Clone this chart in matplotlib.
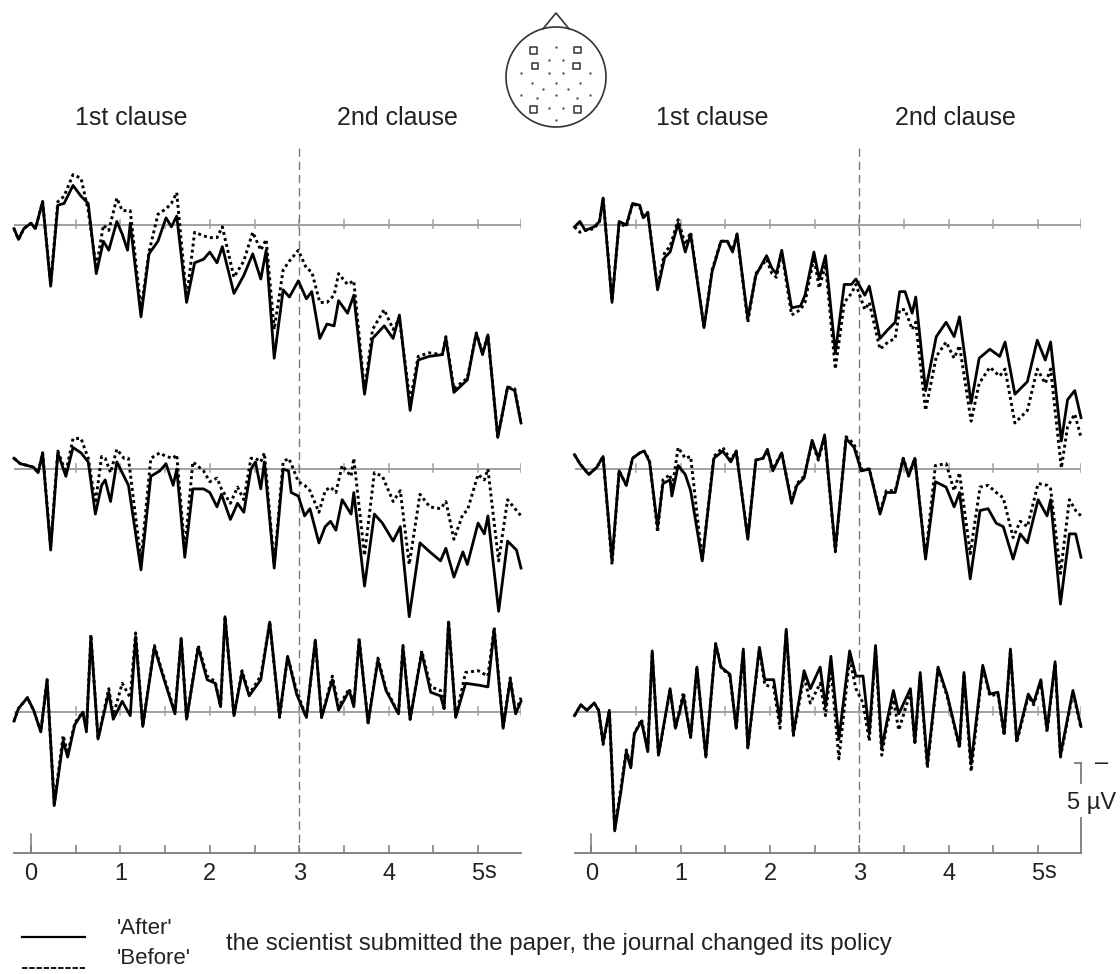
import matplotlib
matplotlib.use("Agg")
import matplotlib.pyplot as plt
import matplotlib.transforms as mtransforms
from matplotlib.lines import Line2D
from matplotlib.patches import Circle
import numpy as np

plt.rcParams['font.family'] = ['Liberation Sans', 'DejaVu Sans']

# ---------------------------------------------------------------------------
# ERP grand averages (µV, negative plotted upwards), three electrode rows per
# panel.  Each row: sample times (s), 'After' and 'Before' amplitudes.
# ---------------------------------------------------------------------------
left_t1 = [-0.19, -0.14, -0.08, 0.00, 0.05, 0.13, 0.22, 0.30, 0.37, 0.47, 0.56, 0.64, 0.73, 0.81, 0.87, 0.96, 1.02, 1.08, 1.11, 1.23, 1.32, 1.42, 1.51, 1.57, 1.63, 1.74, 1.83, 1.93, 2.00, 2.08, 2.14, 2.27, 2.38, 2.48, 2.57, 2.63, 2.72, 2.82, 2.89, 2.99, 3.08, 3.14, 3.23, 3.31, 3.39, 3.44, 3.54, 3.61, 3.73, 3.82, 3.95, 4.05, 4.12, 4.24, 4.33, 4.45, 4.60, 4.64, 4.73, 4.88, 4.98, 5.05, 5.11, 5.22, 5.33, 5.41, 5.48]
left_after1 = [0.2, 0.8, 0.2, -0.1, 0.2, -1.3, 3.4, -1.1, -1.2, -2.2, -1.6, -1.2, 2.7, 0.9, 1.4, -0.2, 0.5, 1.4, -0.1, 5.1, 1.6, 0.9, -0.4, 0.1, -0.5, 4.3, 2.1, 1.9, 1.5, 2.1, 1.2, 3.8, 2.8, 1.6, 3.0, 1.4, 7.4, 3.6, 4.0, 3.1, 4.1, 3.7, 6.3, 5.5, 5.6, 4.2, 4.9, 3.9, 9.4, 6.3, 5.6, 6.3, 5.0, 10.3, 7.5, 7.3, 7.2, 6.3, 9.3, 8.6, 6.0, 7.2, 6.1, 11.8, 9.0, 9.2, 11.0]
left_before1 = [0.2, 0.8, 0.2, -0.1, 0.2, -1.3, 3.3, -1.3, -1.6, -2.8, -2.6, -0.8, 2.4, 0.0, 0.3, -1.5, -0.8, -0.8, -0.8, 4.7, 1.5, -0.6, -0.9, -1.2, -1.8, 4.1, 0.4, 0.6, 0.7, 0.7, 0.1, 2.9, 2.0, 0.4, 1.4, 0.8, 5.8, 2.5, 2.0, 1.4, 2.4, 2.6, 4.3, 4.3, 3.9, 2.7, 3.3, 3.1, 9.2, 5.8, 4.7, 5.8, 5.2, 9.8, 7.3, 7.1, 7.2, 6.2, 9.1, 8.5, 6.0, 7.1, 6.1, 11.8, 9.0, 9.1, 11.0]

left_t2 = [-0.19, -0.12, -0.04, 0.03, 0.08, 0.13, 0.22, 0.30, 0.39, 0.47, 0.56, 0.64, 0.72, 0.79, 0.83, 0.89, 0.96, 1.04, 1.09, 1.23, 1.34, 1.44, 1.51, 1.59, 1.63, 1.72, 1.81, 1.93, 2.00, 2.08, 2.13, 2.23, 2.31, 2.38, 2.46, 2.51, 2.57, 2.61, 2.72, 2.82, 2.88, 2.91, 2.99, 3.06, 3.12, 3.22, 3.29, 3.35, 3.41, 3.48, 3.58, 3.61, 3.73, 3.84, 3.93, 4.05, 4.13, 4.23, 4.35, 4.46, 4.58, 4.64, 4.73, 4.83, 4.88, 5.00, 5.07, 5.11, 5.23, 5.33, 5.43, 5.48]
left_after2 = [-0.6, -0.3, -0.2, -0.1, 0.2, -0.9, 4.5, -0.9, 0.4, -1.2, -0.9, -0.4, 2.5, 0.9, 0.6, 1.8, -0.4, 0.4, 0.9, 5.6, 0.4, 0.1, -0.3, 0.9, 0.0, 4.9, 1.1, 1.1, 1.3, 2.1, 1.4, 2.8, 1.9, 2.4, 0.0, -0.4, 1.1, -0.4, 5.5, 0.0, 0.1, 1.3, 1.5, 2.6, 2.2, 4.1, 3.2, 2.9, 3.4, 1.7, 2.5, 1.3, 6.5, 2.5, 3.0, 4.0, 3.2, 8.2, 4.1, 4.6, 5.1, 4.4, 6.0, 4.6, 5.3, 3.0, 3.6, 2.6, 7.9, 4.0, 4.5, 5.5]
left_before2 = [-0.6, -0.3, -0.2, -0.1, 0.2, -0.9, 4.3, -1.0, 0.2, -1.7, -1.7, -0.6, 1.9, -0.7, -0.6, 0.2, -1.1, -0.6, -0.6, 5.1, -0.6, -0.9, -0.7, -0.6, -0.8, 4.5, -0.4, 0.1, 0.7, 0.5, 1.1, 1.9, 1.0, 1.7, -0.6, -0.6, -0.4, -0.9, 5.3, -0.4, -0.6, -0.3, 0.7, 0.9, 1.2, 2.4, 1.2, 1.0, 1.3, -0.2, 0.4, -0.6, 4.8, 0.2, 0.4, 1.8, 1.2, 5.3, 1.4, 2.1, 2.2, 1.8, 3.9, 2.5, 2.3, 0.3, 0.6, 0.0, 5.1, 1.7, 2.3, 2.6]

left_t3 = [-0.19, -0.14, -0.04, 0.03, 0.11, 0.18, 0.26, 0.36, 0.41, 0.49, 0.58, 0.62, 0.67, 0.75, 0.87, 0.92, 1.02, 1.11, 1.17, 1.25, 1.38, 1.47, 1.61, 1.68, 1.74, 1.87, 1.97, 2.06, 2.12, 2.17, 2.27, 2.36, 2.44, 2.57, 2.67, 2.78, 2.87, 2.97, 3.08, 3.18, 3.25, 3.37, 3.44, 3.56, 3.61, 3.67, 3.77, 3.88, 3.97, 4.11, 4.16, 4.24, 4.37, 4.47, 4.58, 4.62, 4.67, 4.75, 4.86, 5.00, 5.11, 5.18, 5.28, 5.36, 5.42, 5.48]
left_after3 = [0.5, -0.2, -0.8, -0.1, 1.1, -1.8, 5.2, 1.6, 2.5, 0.7, 0.0, 1.1, -4.2, 1.5, -1.1, 0.4, -0.6, 0.2, -4.2, 0.8, -3.6, -2.1, 0.1, -4.1, 0.4, -3.6, -1.8, -1.6, -0.3, -5.3, 0.2, -2.2, -0.9, -1.8, -5.0, 0.2, -3.1, -1.0, 0.3, -4.0, 0.3, -1.8, -0.1, -1.2, -0.3, -4.0, 0.6, -2.9, -1.2, 0.1, -3.6, 0.4, -3.3, -1.1, -0.9, -0.2, -5.0, 0.3, -1.6, -1.5, -1.4, -4.6, 0.9, -1.8, 0.1, -0.6]
left_before3 = [0.5, -0.2, -0.8, -0.1, 1.1, -1.8, 5.1, 1.3, 2.3, 0.6, 0.0, 1.0, -4.3, 1.5, -1.3, 0.2, -1.6, -0.8, -4.4, 0.8, -3.7, -2.2, 0.0, -4.1, 0.4, -3.7, -2.0, -1.7, -0.3, -5.3, 0.2, -2.3, -1.0, -2.0, -5.0, 0.3, -3.1, -1.2, 0.3, -4.0, 0.3, -2.0, -0.3, -1.3, -0.4, -4.1, 0.6, -3.0, -1.3, 0.1, -3.7, 0.4, -3.4, -1.4, -1.2, -0.2, -5.1, 0.3, -2.2, -2.3, -2.0, -4.7, 0.8, -1.9, 0.0, -0.8]

right_t1 = [-0.19, -0.13, -0.07, 0.03, 0.09, 0.13, 0.23, 0.31, 0.39, 0.46, 0.54, 0.58, 0.63, 0.74, 0.82, 0.88, 0.97, 1.05, 1.11, 1.26, 1.35, 1.45, 1.52, 1.58, 1.63, 1.75, 1.84, 1.96, 2.02, 2.07, 2.13, 2.24, 2.34, 2.39, 2.49, 2.55, 2.62, 2.73, 2.83, 2.91, 2.96, 3.06, 3.11, 3.23, 3.32, 3.40, 3.45, 3.51, 3.59, 3.63, 3.74, 3.86, 3.97, 4.06, 4.12, 4.25, 4.34, 4.46, 4.57, 4.63, 4.74, 4.88, 4.99, 5.08, 5.14, 5.26, 5.33, 5.41, 5.48]
right_after1 = [0.1, -0.2, 0.3, 0.1, -0.2, -1.5, 4.3, -0.2, 0.0, -1.2, -1.1, -0.4, -0.7, 3.6, 1.8, 1.5, -0.1, 1.5, 0.5, 5.7, 2.6, 0.9, 0.9, 1.5, 0.5, 5.2, 2.8, 1.7, 2.4, 2.7, 1.4, 4.6, 4.5, 3.9, 1.5, 3.0, 1.7, 7.1, 3.3, 3.3, 3.0, 3.9, 3.4, 6.3, 5.8, 5.4, 3.7, 3.7, 4.9, 4.0, 9.2, 6.2, 5.4, 6.2, 5.1, 9.9, 7.4, 6.9, 7.3, 6.5, 9.4, 8.7, 6.4, 7.5, 6.5, 12.0, 9.7, 9.2, 10.7]
right_before1 = [0.1, 0.4, 0.3, 0.2, -0.2, -1.5, 4.2, -0.1, 0.1, -1.2, -1.0, -0.4, -0.7, 3.5, 1.5, 1.2, -0.3, 1.1, 0.4, 5.7, 2.5, 0.9, 0.9, 1.4, 0.5, 5.4, 2.7, 1.9, 2.7, 2.9, 1.5, 5.0, 4.7, 4.3, 1.8, 3.5, 2.2, 8.0, 4.3, 3.8, 3.3, 4.7, 4.3, 6.9, 6.5, 6.3, 4.7, 4.7, 5.8, 5.4, 10.3, 7.3, 6.5, 7.4, 6.7, 10.9, 8.8, 7.9, 8.4, 8.0, 11.0, 10.3, 8.0, 8.8, 8.0, 13.5, 11.2, 10.5, 11.8]

right_t2 = [-0.19, -0.13, -0.03, 0.06, 0.13, 0.23, 0.31, 0.39, 0.46, 0.54, 0.59, 0.65, 0.74, 0.80, 0.88, 0.90, 0.97, 1.05, 1.11, 1.24, 1.37, 1.47, 1.56, 1.62, 1.75, 1.84, 1.92, 1.97, 2.03, 2.13, 2.24, 2.30, 2.38, 2.47, 2.54, 2.61, 2.73, 2.85, 2.94, 3.02, 3.11, 3.23, 3.30, 3.40, 3.49, 3.55, 3.62, 3.74, 3.85, 3.97, 4.06, 4.12, 4.24, 4.35, 4.44, 4.53, 4.61, 4.72, 4.80, 4.88, 5.00, 5.10, 5.14, 5.25, 5.35, 5.42, 5.48]
right_after2 = [-0.8, -0.3, 0.3, -0.1, -0.7, 5.1, 0.1, 0.9, -0.6, -0.9, -1.0, -0.4, 3.2, 0.8, 0.6, 1.5, -0.2, 0.3, 1.2, 5.1, -0.6, -1.0, -0.4, -1.0, 3.9, -0.5, -0.6, -1.1, 0.1, -0.9, 1.9, 0.9, 0.5, -1.6, -0.6, -1.9, 4.5, -1.7, -1.2, 0.1, 0.0, 2.5, 1.3, 1.3, -0.6, 0.4, -0.6, 5.0, 0.7, 1.0, 2.1, 1.3, 6.1, 2.3, 2.2, 3.0, 3.2, 5.0, 3.6, 4.1, 1.7, 2.6, 1.7, 7.5, 3.6, 3.6, 4.9]
right_before2 = [-0.8, -0.3, 0.3, -0.1, -0.7, 5.3, 0.1, 0.9, -0.6, -0.9, -1.0, -0.5, 3.5, 0.6, 0.3, 1.2, -1.2, -0.6, -0.7, 5.1, -0.7, -1.2, -0.5, -1.0, 3.8, -0.5, -0.6, -1.0, 0.0, -0.9, 1.8, 0.8, 0.4, -1.5, -0.5, -1.8, 4.6, -1.8, -1.4, 0.0, 0.0, 2.4, 1.2, 1.2, -0.6, 0.3, -0.6, 4.9, -0.2, -0.3, 1.2, 0.2, 4.7, 1.0, 0.9, 1.3, 1.6, 3.8, 2.9, 3.2, 0.8, 0.9, 1.1, 5.8, 1.7, 2.3, 2.6]

right_t3 = [-0.19, -0.12, -0.05, 0.03, 0.08, 0.13, 0.20, 0.26, 0.33, 0.39, 0.44, 0.48, 0.56, 0.63, 0.68, 0.75, 0.88, 0.94, 1.03, 1.11, 1.18, 1.28, 1.39, 1.45, 1.55, 1.62, 1.70, 1.75, 1.88, 1.94, 2.04, 2.11, 2.18, 2.26, 2.38, 2.45, 2.56, 2.62, 2.68, 2.77, 2.89, 2.96, 3.04, 3.11, 3.18, 3.25, 3.30, 3.38, 3.44, 3.57, 3.62, 3.68, 3.76, 3.88, 3.98, 4.12, 4.17, 4.25, 4.38, 4.46, 4.55, 4.62, 4.69, 4.76, 4.89, 4.95, 5.03, 5.10, 5.19, 5.25, 5.39, 5.48]
right_after3 = [0.2, -0.4, -0.1, -0.5, -0.1, 1.7, -0.1, 6.6, 4.4, 2.2, 3.1, 1.2, 0.5, 2.2, -3.4, 2.4, -1.3, 0.9, -0.9, 1.4, -2.5, 2.5, -3.8, -2.5, -2.1, 0.9, -3.5, 2.0, -3.6, -1.8, -1.8, 0.5, -4.6, 1.2, -2.3, -1.3, -2.5, -0.3, -3.1, 1.5, -3.4, -2.0, -2.0, 1.2, -3.7, 2.0, 0.7, -1.2, 0.1, -1.3, 1.7, -2.2, 2.9, -2.5, -1.0, 1.9, -2.2, 2.9, -2.6, -1.0, -1.1, 1.2, -3.5, 1.6, -1.0, -0.5, -1.8, 1.0, -2.8, 2.4, -1.2, 0.8]
right_before3 = [0.2, -0.4, -0.1, -0.5, -0.1, 1.8, -0.1, 6.5, 4.2, 2.1, 3.0, 1.2, 0.4, 2.1, -3.3, 2.4, -1.2, 0.9, -1.1, 1.4, -2.4, 2.5, -3.8, -2.5, -2.0, 0.9, -3.4, 2.0, -3.5, -1.5, -1.4, 0.9, -4.5, 1.3, -2.0, -0.5, -1.6, 0.2, -2.5, 2.6, -3.0, -1.3, -0.5, 1.6, -3.5, 2.4, 0.9, -0.7, 1.0, -1.1, 1.8, -2.0, 3.1, -2.4, -0.9, 2.0, -2.1, 3.3, -2.5, -0.9, -1.0, 1.3, -3.4, 1.7, -0.9, -0.4, -1.7, 1.1, -2.7, 2.5, -1.1, 0.9]

xtick_labels = ['0', '1', '2', '3', '4', '5']
clause_labels = ['1st clause', '2nd clause']
legend_labels = ["'After'", "'Before'"]
sentence = 'the scientist submitted the paper, the journal changed its policy'
scale_uv = 5

# electrode montage (unit head radius); highlighted sites drawn as squares
elec_x = [0.00, -0.15, 0.13, -0.70, -0.15, 0.13, 0.67, -0.49, 0.00, 0.48, -0.27, 0.23,
          -0.70, -0.39, 0.00, 0.41, 0.67, -0.15, 0.13, 0.00]
elec_y = [0.61, 0.34, 0.34, 0.09, 0.09, 0.09, 0.09, -0.11, -0.11, -0.11, -0.23, -0.23,
          -0.36, -0.41, -0.36, -0.41, -0.36, -0.61, -0.61, -0.85]
sel_x = [-0.45, 0.43, -0.42, 0.41, -0.45, 0.43]
sel_y = [0.53, 0.54, 0.22, 0.22, -0.65, -0.65]

# ---------------------------------------------------------------------------
W, H = 1120, 974
fig = plt.figure(figsize=(W / 100, H / 100), dpi=100)
fig.patch.set_facecolor('white')


def px_axes(x0, y0, x1, y1):
    """Axes from a pixel box given with a top-left origin."""
    return fig.add_axes([x0 / W, 1 - y1 / H, (x1 - x0) / W, (y1 - y0) / H])


TMIN, TMAX = -0.19, 5.48
PX_PER_UV = 18.0
ROW_OFFSET = [0.0, 13.56, 27.06]
YTOP, YBOT = -4.28, 34.89
GRAY = '#7a7a7a'
BASE = '#a0a0a0'
TXT = '#222222'


def draw_panel(ax, rows, scale_bar=False):
    ax.set_xlim(TMIN, TMAX)
    ax.set_ylim(YBOT, YTOP)          # negative up
    ax.patch.set_alpha(0)
    for s in ('top', 'left', 'right'):
        ax.spines[s].set_visible(False)
    ax.spines['bottom'].set_color(GRAY)
    ax.spines['bottom'].set_linewidth(1.3)
    ax.set_yticks([])
    ticks = np.arange(0, 5.01, 0.5)
    ax.set_xticks(ticks)
    ax.set_xticklabels([xtick_labels[int(t)] if t == int(t) else '' for t in ticks])
    ax.tick_params(axis='x', direction='in', length=6, width=1.1, color=GRAY,
                   pad=7, labelsize=17, labelcolor=TXT)
    # taller tick at stimulus onset
    ax.plot([0, 0], [YBOT, YBOT - 19 / PX_PER_UV], color=GRAY, lw=1.1, clip_on=False)
    # seconds unit after the last label
    off = mtransforms.offset_copy(ax.get_xaxis_transform(), fig=fig, x=6, y=-19.5, units='dots')
    ax.text(5, 0, 's', transform=off, ha='left', va='center', fontsize=17, color=TXT)

    # clause boundary
    ax.plot([3, 3], [YTOP, YBOT], color=GRAY, lw=1.0, dashes=(6, 3.5))

    tick_t = list(np.arange(0.5, 5.01, 0.5)) + [TMAX]
    for off_uv, (t, after, before) in zip(ROW_OFFSET, rows):
        ax.plot([TMIN, TMAX], [off_uv, off_uv], color=BASE, lw=1.4, zorder=1)
        for tt in tick_t:
            ax.plot([tt, tt], [off_uv - 5 / PX_PER_UV, off_uv + 3 / PX_PER_UV],
                    color=BASE, lw=1.1, zorder=1)
        ax.plot(t, np.asarray(before) + off_uv, color='black', lw=2.1,
                linestyle=(0, (1, 1.1)), zorder=3, clip_on=False)
        ax.plot(t, np.asarray(after) + off_uv, color='black', lw=2.0, zorder=4,
                solid_joinstyle='round', clip_on=False)

    if scale_bar:
        top = YBOT - scale_uv
        ax.plot([TMAX, TMAX], [top, top + 20 / PX_PER_UV], color=GRAY, lw=1.3, clip_on=False)
        ax.plot([TMAX, TMAX], [YBOT - 35 / PX_PER_UV, YBOT], color=GRAY, lw=1.3, clip_on=False)
        ax.plot([TMAX - 6 / 89.4, TMAX], [top, top], color=GRAY, lw=1.3, clip_on=False)


ax_l = px_axes(14, 148, 521, 853)
draw_panel(ax_l, [(left_t1, left_after1, left_before1),
                  (left_t2, left_after2, left_before2),
                  (left_t3, left_after3, left_before3)])
ax_r = px_axes(574.5, 148, 1081, 853)
draw_panel(ax_r, [(right_t1, right_after1, right_before1),
                  (right_t2, right_after2, right_before2),
                  (right_t3, right_after3, right_before3)], scale_bar=True)


def fig_text(x, y, s, **kw):
    fig.text(x / W, 1 - y / H, s, **kw)


# clause headers
for x, s in zip([131, 397, 712, 955], clause_labels * 2):
    fig_text(x, 118, s, ha='center', va='center', fontsize=18, color=TXT)

# scale bar labels
fig_text(1092, 803, '5 µV', ha='center', va='center', fontsize=17, color=TXT)
fig_text(1102, 763, '–', ha='center', va='center', fontsize=17, color=TXT)

# head with electrode montage
ax_h = px_axes(500, 5, 612, 130)
ax_h.set_xlim(-1.12, 1.12)
ax_h.set_ylim(-1.06, 1.44)
ax_h.axis('off')
ax_h.add_patch(Circle((0, 0), 1.0, fill=False, ec='#333333', lw=1.2))
ax_h.plot([-0.26, 0, 0.26], [0.965, 1.28, 0.965], color='#333333', lw=1.2)
ax_h.scatter(elec_x, elec_y, s=3, color='#555555', lw=0)
ax_h.scatter(sel_x, sel_y, s=20, marker='s', facecolor='none', edgecolor='#333333', lw=1.1)

# legend
fig.add_artist(Line2D([22 / W, 85 / W], [1 - 937 / H] * 2, color='black', lw=1.6))
fig.add_artist(Line2D([22 / W, 85 / W], [1 - 968 / H] * 2, color='black', lw=1.3,
                      dashes=(3, 1)))
fig_text(117, 929, legend_labels[0], ha='left', va='center', fontsize=16, color=TXT)
fig_text(117, 958, legend_labels[1], ha='left', va='center', fontsize=16, color=TXT)
fig_text(226, 944, sentence, ha='left', va='center', fontsize=17.3, color=TXT)

fig.savefig('out.png', dpi=100)
